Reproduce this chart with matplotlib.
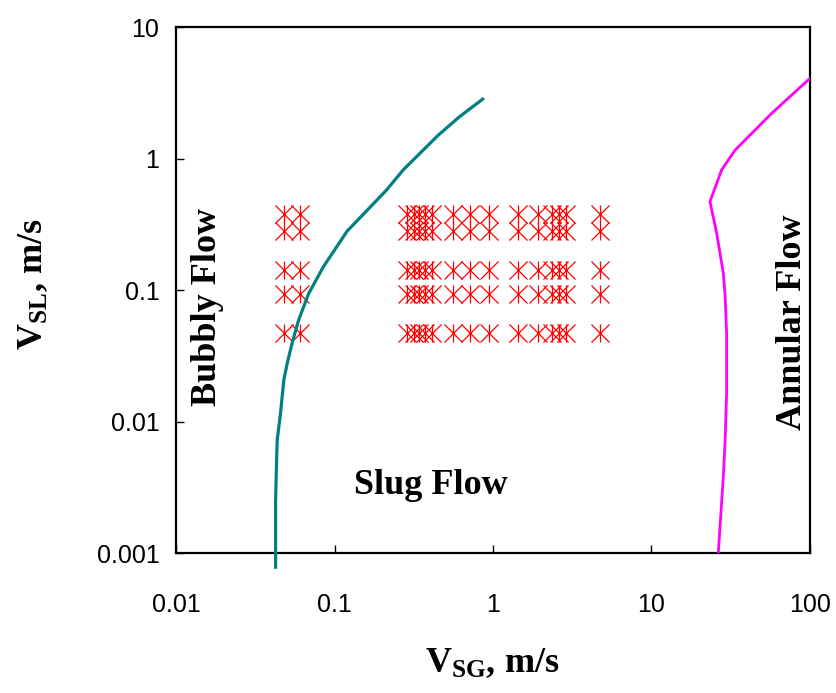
import matplotlib
matplotlib.use("Agg")
import matplotlib.pyplot as plt
from matplotlib.path import Path

plt.rcParams['mathtext.fontset'] = 'custom'
plt.rcParams['mathtext.rm'] = 'Liberation Serif'
plt.rcParams['mathtext.bf'] = 'Liberation Serif:bold'

# measured points (superficial gas / liquid velocity, m/s)
vsg_points = [0.048, 0.061, 0.285, 0.316, 0.342, 0.375, 0.412, 0.558, 0.72, 0.95,
              1.43, 1.91, 2.37, 2.61, 2.88, 4.72]
vsl_points = [0.38, 0.28, 0.142, 0.094, 0.047]

# bubbly / slug transition
bub_x = [0.0425, 0.0425, 0.0430, 0.0435, 0.0456, 0.0479, 0.0503, 0.054, 0.0594,
         0.0687, 0.085, 0.12, 0.213, 0.271, 0.45, 0.615, 0.861]
bub_y = [0.00078, 0.00253, 0.0045, 0.00724, 0.0115, 0.0207, 0.0277, 0.0394, 0.0592,
         0.094, 0.15, 0.28, 0.576, 0.818, 1.5, 2.08, 2.83]

# slug / annular transition
ann_x = [26.4, 28.4, 29.1, 29.8, 29.8, 29.1, 28.4, 25.8, 23.4, 27.7, 33.7, 57.4, 100]
ann_y = [0.001, 0.0038, 0.0068, 0.0164, 0.047, 0.094, 0.134, 0.27, 0.47, 0.818, 1.16, 2.21, 4.07]

# asterisk marker: X plus vertical bar
star = Path([(-1, -1), (1, 1), (-1, 1), (1, -1), (0, -1), (0, 1)],
            [Path.MOVETO, Path.LINETO, Path.MOVETO, Path.LINETO, Path.MOVETO, Path.LINETO])

fig = plt.figure(figsize=(8.37, 6.93), dpi=100)
ax = fig.add_axes([0.2103, 0.202, 0.7574, 0.759])

px = []
py = []
for yv in vsl_points:
    for xv in vsg_points:
        px.append(xv)
        py.append(yv)
ax.plot(px, py, linestyle='none', marker=star, markersize=13, markeredgewidth=0.9,
        color='#ff0000', markerfacecolor='none')

ax.plot(bub_x, bub_y, color='#008080', linewidth=2.3, clip_on=False, zorder=3)
ax.plot(ann_x, ann_y, color='#ff00ff', linewidth=2.0, zorder=3)

ax.set_xscale('log')
ax.set_yscale('log')
ax.set_xlim(0.01, 100)
ax.set_ylim(0.001, 10)
ax.set_xticks([0.01, 0.1, 1, 10, 100])
ax.set_xticklabels(['0.01', '0.1', '1', '10', '100'])
ax.set_yticks([0.001, 0.01, 0.1, 1, 10])
ax.set_yticklabels(['0.001', '0.01', '0.1', '1', '10'])
ax.minorticks_off()
ax.tick_params(direction='in', length=6, width=1, labelsize=18, top=False, right=False)
ax.tick_params(axis='x', pad=29)
ax.tick_params(axis='y', pad=12)
for lab in ax.get_xticklabels() + ax.get_yticklabels():
    lab.set_family('Liberation Sans')
for s in ax.spines.values():
    s.set_linewidth(1.6)

tfont = dict(family='Liberation Serif', weight='bold', fontsize=26)
ax.text(0.049, 0.468, 'Bubbly Flow', transform=ax.transAxes, rotation=90,
        ha='center', va='center', **tfont)
ax.text(0.402, 0.129, 'Slug Flow', transform=ax.transAxes, ha='center', va='center', **tfont)
ax.text(0.972, 0.439, 'Annular Flow', transform=ax.transAxes, rotation=90,
        ha='center', va='center', **tfont)

fig.text(0.588, 0.043, r'$\mathbf{V_{SG}}$, m/s', ha='center', va='center', **tfont)
fig.text(0.040, 0.59, r'$\mathbf{V_{SL}}$, m/s', ha='center', va='center', rotation=90, **tfont)

fig.savefig('out.png', dpi=100)
